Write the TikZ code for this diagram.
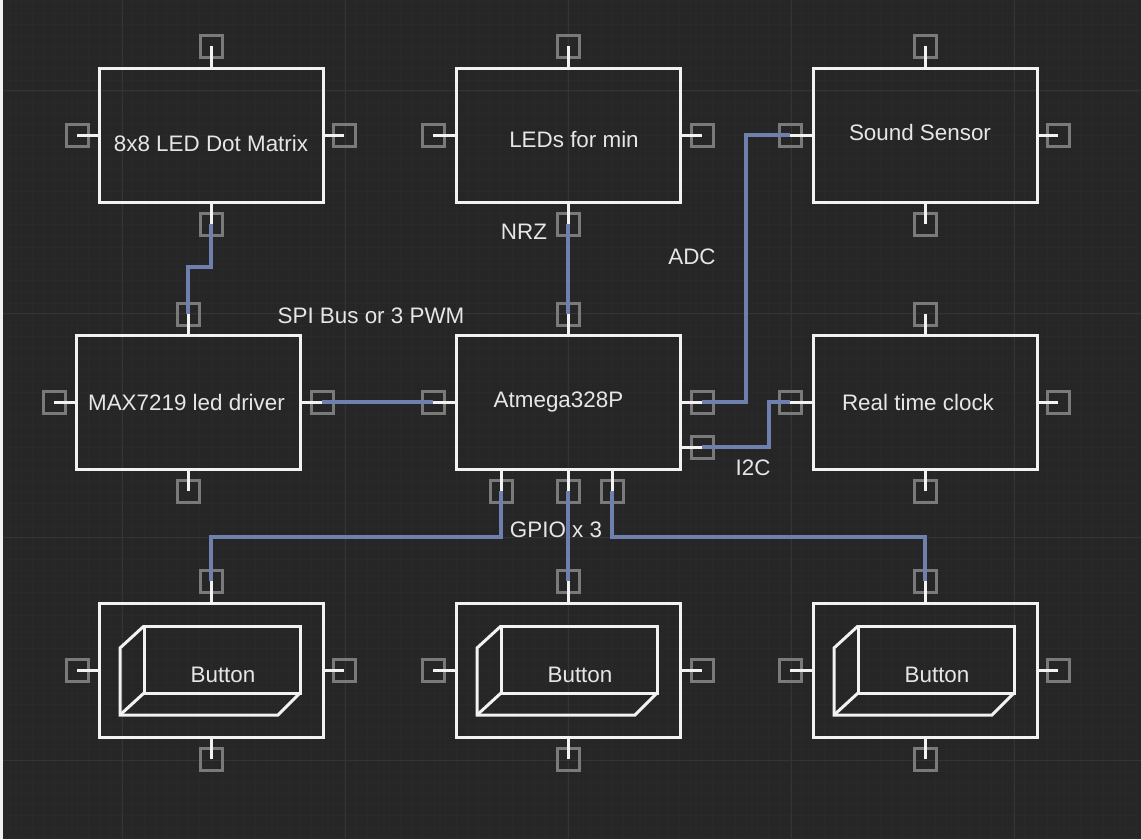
\documentclass[tikz,border=0pt]{standalone}
\usepackage{fontspec}
\setmainfont{Liberation Sans}
\definecolor{bgc}{HTML}{262626}
\definecolor{gridminor}{HTML}{292929}
\definecolor{gridmajor}{HTML}{343434}
\definecolor{portc}{HTML}{7A7A7A}
\definecolor{wirec}{HTML}{7080AE}
\definecolor{linec}{HTML}{F2F2F2}
\definecolor{textc}{HTML}{E6E6E6}
\tikzset{
  boxn/.style={draw=linec,line width=3pt,minimum width=224pt,minimum height=134pt,inner sep=0pt,outer sep=0pt},
  portn/.style={draw=portc,line width=3pt,minimum size=22pt,inner sep=0pt,outer sep=0pt},
  wire/.style={draw=wirec,line width=3.2pt,line join=miter},
  stub/.style={draw=linec,line width=3pt},
  shape3d/.style={draw=linec,line width=3pt,line join=miter},
  lab/.style={text=textc,font=\fontsize{22.4pt}{24pt}\selectfont,inner sep=0pt}
}
\begin{document}
\begin{tikzpicture}[x=1pt,y=-1pt]
\useasboundingbox (0,0) rectangle (1141,839);
\fill[bgc] (0,0) rectangle (1141,839);
\fill[white!94!black] (0,0) rectangle (3,839);
% grid
\foreach \i in {0,...,102} {\draw[gridminor,line width=0.7pt] ({10.15+11.15*\i},0) -- ({10.15+11.15*\i},839);}
\foreach \i in {0,...,75} {\draw[gridminor,line width=0.7pt] (3,{1.8+11.15*\i}) -- (1141,{1.8+11.15*\i});}
\foreach \x in {122,345,568,791,1014} {\draw[gridmajor,line width=0.8pt] (\x,0) -- (\x,839);}
\foreach \y in {90,313,537,760} {\draw[gridmajor,line width=0.8pt] (3,\y) -- (1141,\y);}
% boxes
\node[boxn] (dot) at (211,135) {};
\node[boxn] (led) at (568,135) {};
\node[boxn] (snd) at (925,135) {};
\node[boxn] (max) at (188,402.5) {};
\node[boxn] (atm) at (568,402.5) {};
\node[boxn] (rtc) at (925,402.5) {};
\node[boxn] (b1) at (211,670) {};
\node[boxn] (b2) at (568,670) {};
\node[boxn] (b3) at (925,670) {};
% button inner shapes
\foreach \c in {b1,b2,b3} {
  \begin{scope}[shift={(\c.center)}]
    \draw[shape3d] (-67,-44) rectangle (89,23);
    \draw[shape3d] (-67,-44) -- (-91,-22) -- (-91,45) -- (67,45) -- (89,23);
    \draw[shape3d] (-67,23) -- (-91,45);
  \end{scope}
}
% ports
\foreach \n/\x/\y in {
  dott/211/46, dotl/77/135, dotr/344/135, dotb/211/224,
  ledt/568/46, ledl/433/135, ledr/702/135, ledb/568/224,
  sndt/925/46, sndl/790/135, sndr/1058/135, sndb/925/224,
  maxt/188/314, maxl/54/402, maxr/322/402, maxb/188/491,
  atmt/568/314, atml/433/402, atmr/702/402, atms/702/447, atma/501/491, atmb/568/491, atmc/612/491,
  rtct/925/314, rtcl/790/402, rtcr/1058/402, rtcb/925/491,
  bat/211/581, bal/77/670, bar/344/670, bab/211/759,
  bbt/568/581, bbl/433/670, bbr/702/670, bbb/568/759,
  bct/925/581, bcl/790/670, bcr/1058/670, bcb/925/759}
  {\node[portn] (\n) at (\x,\y) {};}
% connectors
\coordinate (j1a) at (211,267);
\coordinate (j1b) at (188,267);
\draw[wire] (dotb.center) -- (j1a) -- (j1b) -- (maxt.center);
\draw[wire] (maxr.center) -- (atml.center);
\draw[wire] (ledb.center) -- (atmt.center);
\coordinate (j2) at (746,402);
\draw[wire] (atmr.center) -- (j2) -- (j2 |- sndl) -- (sndl.center);
\coordinate (j3) at (769,447);
\draw[wire] (atms.center) -- (j3) -- (j3 |- rtcl) -- (rtcl.center);
\coordinate (j4) at (501,537);
\draw[wire] (atma.center) -- (j4) -- (j4 -| bat) -- (bat.center);
\draw[wire] (atmb.center) -- (bbt.center);
\coordinate (j5) at (612,537);
\draw[wire] (atmc.center) -- (j5) -- (j5 -| bct) -- (bct.center);
% stubs
\foreach \p/\b in {dott/dot,ledt/led,sndt/snd,maxt/max,atmt/atm,rtct/rtc,bat/b1,bbt/b2,bct/b3}
  {\draw[stub] (\p.center) -- (\p.center |- \b.north);}
\foreach \p/\b in {dotb/dot,ledb/led,sndb/snd,maxb/max,atma/atm,atmb/atm,atmc/atm,rtcb/rtc,bab/b1,bbb/b2,bcb/b3}
  {\draw[stub] (\p.center) -- (\p.center |- \b.south);}
\foreach \p/\b in {dotl/dot,ledl/led,sndl/snd,maxl/max,atml/atm,rtcl/rtc,bal/b1,bbl/b2,bcl/b3}
  {\draw[stub] (\p.center) -- (\p.center -| \b.west);}
\foreach \p/\b in {dotr/dot,ledr/led,sndr/snd,maxr/max,atmr/atm,atms/atm,rtcr/rtc,bar/b1,bbr/b2,bcr/b3}
  {\draw[stub] (\p.center) -- (\p.center -| \b.east);}
% labels
\node[lab] (t1) at (211,143) {8x8 LED Dot Matrix};
\node[lab] (t2) at (574,139) {LEDs for min};
\node[lab] (t3) at (920,132) {Sound Sensor};
\node[lab] (t4) at (186.5,402) {MAX7219 led driver};
\node[lab] (t5) at (558.5,402) {Atmega328P};
\node[lab] (t6) at (918,402) {Real time clock};
\node[lab] (t7) at (223,675) {Button};
\node[lab] (t8) at (580,675) {Button};
\node[lab] (t9) at (937,675) {Button};
\node[lab] (t10) at (524,232) {NRZ};
\node[lab] (t11) at (692,257) {ADC};
\node[lab] (t12) at (371,316) {SPI Bus or 3 PWM};
\node[lab] (t13) at (753,468) {I2C};
\node[lab] (t14) at (556,530) {GPIO x 3};
\end{tikzpicture}
\end{document}
